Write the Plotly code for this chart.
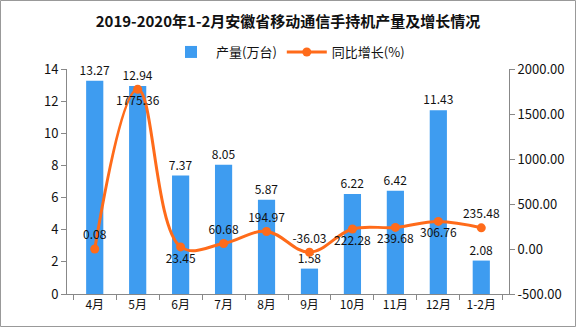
import plotly.graph_objects as go

categories = ["4月", "5月", "6月", "7月", "8月", "9月", "10月", "11月", "12月", "1-2月"]
output_vals = [13.27, 12.94, 7.37, 8.05, 5.87, 1.58, 6.22, 6.42, 11.43, 2.08]
growth_vals = [0.08, 1775.36, 23.45, 60.68, 194.97, -36.03, 222.28, 239.68, 306.76, 235.48]
growth_text_pos = ["top center", "bottom center", "bottom center", "top center", "top center",
                   "top center", "bottom center", "bottom center", "bottom center", "top center"]
left_ticks = [0, 2, 4, 6, 8, 10, 12, 14]
right_ticks = [-500, 0, 500, 1000, 1500, 2000]

W, H = 576, 327
ML, MR, MT, MB = 67, 67, 69, 33
PW, PH = W - ML - MR, H - MT - MB

BLUE = "#3E9CF0"
ORANGE = "#FF6B1A"
AXIS = "#888888"
FONT = "Noto Sans CJK SC, DejaVu Sans, sans-serif"

fig = go.Figure()
fig.add_trace(go.Bar(
    x=categories, y=output_vals, name="产量(万台)",
    marker=dict(color=BLUE, line=dict(width=0)),
    width=0.4,
    text=[f"{v:.2f}" for v in output_vals], textposition="outside",
    constraintext="none",
    textfont=dict(size=12, color="#111111"), cliponaxis=False,
))
fig.add_trace(go.Scatter(
    x=categories, y=growth_vals, name="同比增长(%)", yaxis="y2",
    mode="lines+markers+text",
    line=dict(color=ORANGE, width=3, shape="spline", smoothing=1.1),
    marker=dict(color=ORANGE, size=9),
    text=[f"{v:.2f}" for v in growth_vals], textposition=growth_text_pos,
    textfont=dict(size=12, color="#111111"), cliponaxis=False,
))

fig.update_layout(
    width=W, height=H,
    margin=dict(l=ML, r=MR, t=MT, b=MB),
    paper_bgcolor="white", plot_bgcolor="white",
    font=dict(family=FONT, size=12, color="#111111"),
    title=dict(text="<b>2019-2020年1-2月安徽省移动通信手持机产量及增长情况</b>",
               x=0.5, xanchor="center", y=1 - 22 / H, yanchor="middle",
               font=dict(size=15, color="#111111")),
    legend=dict(orientation="h", x=0.5, xanchor="center", y=1 + 17 / PH, yanchor="middle",
                font=dict(size=13), bgcolor="rgba(0,0,0,0)", itemwidth=40),
    bargap=0.6,
    xaxis=dict(showline=True, linecolor=AXIS, ticks="outside", tickson="boundaries",
               ticklen=5, tickcolor=AXIS, showgrid=False, tickfont=dict(size=12)),
    yaxis=dict(range=[0, 14], tickvals=left_ticks, showline=True, linecolor=AXIS,
               ticks="outside", ticklen=5, tickcolor=AXIS, showgrid=False, zeroline=False,
               tickfont=dict(size=13)),
    yaxis2=dict(range=[-500, 2000], tickvals=right_ticks, ticktext=[f"{v:.2f}" for v in right_ticks],
                overlaying="y", side="right", showline=True, linecolor=AXIS,
                ticks="outside", ticklen=5, tickcolor=AXIS, showgrid=False, zeroline=False,
                tickfont=dict(size=13)),
    shapes=[dict(type="rect", xref="paper", yref="paper",
                 x0=-(ML - 0.5) / PW, x1=1 + (MR - 0.5) / PW,
                 y0=-(MB - 0.5) / PH, y1=1 + (MT - 0.5) / PH,
                 line=dict(color="#999999", width=1), fillcolor="rgba(0,0,0,0)")],
)

fig.write_html("out.html")
